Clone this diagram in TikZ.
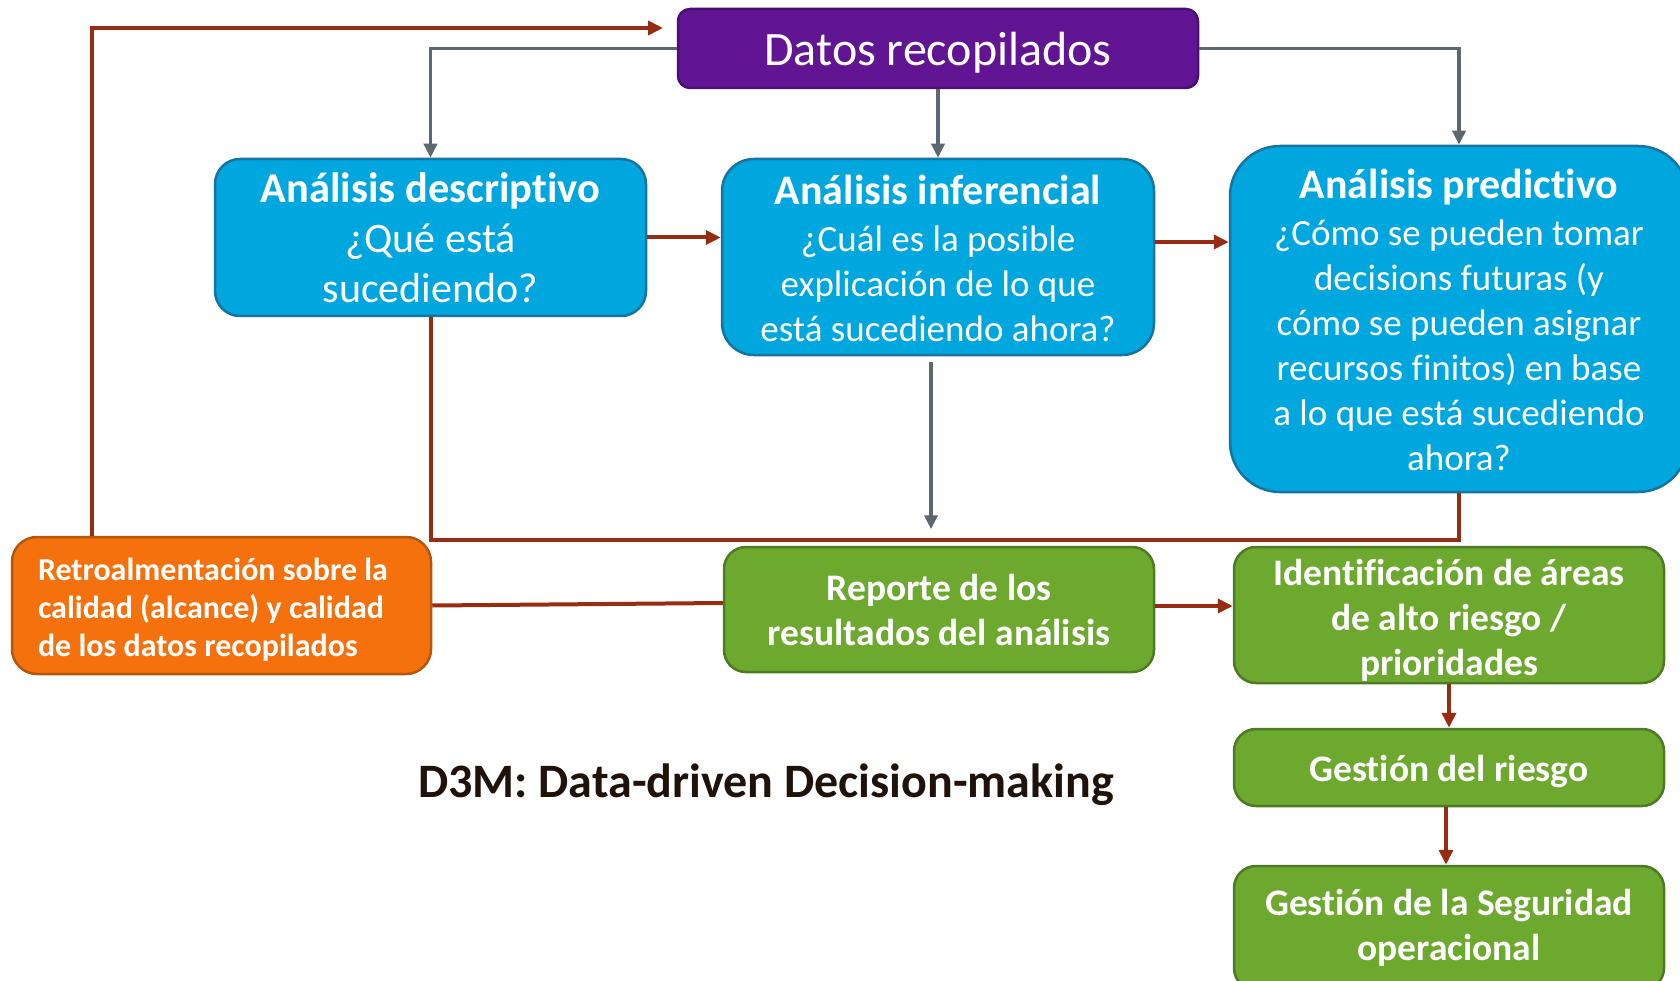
\documentclass[tikz,border=0pt]{standalone}
\usepackage{fontspec}
\setmainfont{Carlito}[Ligatures={NoCommon}]
\usetikzlibrary{arrows.meta,calc}
\definecolor{purp}{HTML}{621593}
\definecolor{purpb}{HTML}{4B0F73}
\definecolor{blu}{HTML}{00A6DE}
\definecolor{blub}{HTML}{1674A0}
\definecolor{orng}{HTML}{F4710E}
\definecolor{orngb}{HTML}{B4560C}
\definecolor{grn}{HTML}{6DA92F}
\definecolor{grnb}{HTML}{4F7A24}
\definecolor{gry}{HTML}{5C6870}
\definecolor{rdb}{HTML}{962C12}
\definecolor{ttl}{HTML}{1E120A}
\begin{document}
\begin{tikzpicture}[x=1pt,y=-1pt,
 box/.style={draw, line width=2.5pt, inner sep=0pt, anchor=center},
 bluebox/.style={box, fill=blu, draw=blub},
 greenbox/.style={box, fill=grn, draw=grnb, rounded corners=22pt, minimum width=430pt},
 txt/.style={text=white, inner sep=0pt, align=center},
 gtxt/.style={txt, font=\fontsize{37.5}{45}\selectfont\bfseries},
 gline/.style={draw=gry, line width=3.5pt, -{Triangle[length=14pt,width=13pt]}},
 rline/.style={draw=rdb, line width=4pt},
 rarr/.style={rline, -{Triangle[length=15pt,width=14pt]}},
 ]
\useasboundingbox (0,0) rectangle (1680,981);
\fill[white] (0,0) rectangle (1680,981);

% boxes
\node[box, fill=purp, draw=purpb, rounded corners=12pt, minimum width=520pt, minimum height=79pt] (data) at (938,48.5) {};
\node[bluebox, rounded corners=25pt, minimum width=431pt, minimum height=157pt] (desc) at (430.5,237.5) {};
\node[bluebox, rounded corners=32pt, minimum width=432pt, minimum height=196pt] (inf) at (938,257) {};
\node[bluebox, rounded corners=50pt, minimum width=458pt, minimum height=346pt] (pred) at (1459,319) {};
\node[box, fill=orng, draw=orngb, rounded corners=25pt, minimum width=419pt, minimum height=137pt] (ret) at (221.5,605.5) {};
\node[greenbox, minimum height=125pt] (rep) at (939,609.5) {};
\node[greenbox, minimum height=136pt] (ident) at (1449,615) {};
\node[greenbox, minimum height=77pt] (riesgo) at (1449,767.5) {};
\node[greenbox, minimum height=124pt] (seg) at (1449,928) {};

% texts
\node[txt, font=\fontsize{48}{56}\selectfont] (data-t) at ([yshift=-4pt]data.center) {Datos recopilados};
\node[txt, font=\fontsize{42}{50}\selectfont] (desc-t) at (desc.center) {{\fontsize{42.5}{50}\selectfont\bfseries Análisis descriptivo}\\¿Qué está\\sucediendo?};
\node[txt, font=\fontsize{37}{45}\selectfont] (inf-t) at ([yshift=-1pt]inf.center) {{\fontsize{42}{50}\selectfont\bfseries Análisis inferencial}\\[2pt]¿Cuál es la posible\\explicación de lo que\\está sucediendo ahora?};
\node[txt, font=\fontsize{37}{45}\selectfont] (pred-t) at ([yshift=-1pt]pred.center) {{\fontsize{42}{50}\selectfont\bfseries Análisis predictivo}\\[2pt]¿Cómo se pueden tomar\\decisions futuras (y\\cómo se pueden asignar\\recursos finitos) en base\\a lo que está sucediendo\\ahora?};
\node[txt, align=left, font=\fontsize{32}{38}\selectfont\bfseries] (ret-t) at ([xshift=-8.5pt,yshift=-4pt]ret.center) {Retroalmentación sobre la\\calidad (alcance) y calidad\\de los datos recopilados};
\node[gtxt] (rep-t) at (rep.center) {Reporte de los\\resultados del análisis};
\node[gtxt] (ident-t) at ([yshift=-5pt]ident.center) {Identificación de áreas\\de alto riesgo /\\prioridades};
\node[gtxt] (riesgo-t) at ([yshift=-4pt]riesgo.center) {Gestión del riesgo};
\node[gtxt] (seg-t) at (seg.center) {Gestión de la Seguridad\\operacional};

\node[text=ttl, font=\fontsize{48}{56}\selectfont\bfseries, inner sep=0pt] (title) at (766,785) {D3M: Data-driven Decision-making};

% grey connectors
\draw[gline] (data.west) -| (desc.north);
\draw[gline] (data.south) -- (inf.north);
\draw[gline] (data.east) -| (pred.north);
\draw[gline] ([xshift=-7pt,yshift=-6pt]inf.south) -- ++(0,167);

% red connectors
\draw[rarr] (desc.east) -- (desc.east -| inf.west);
\draw[rarr] ([yshift=15pt]inf.east) -- ([yshift=15pt]inf.east -| pred.west);
\coordinate (fb) at (663,28);
\draw[rarr] ([xshift=-129.5pt]ret.north) |- (fb);
\coordinate (ly) at (0,540);
\draw[rline] (desc.south) |- (ly -| pred.south) -- (pred.south);
\draw[rline] (ret.east) -- ([yshift=6.5pt]rep.west);
\draw[rarr] ([yshift=3.5pt]rep.east) -- ([yshift=3.5pt]rep.east -| ident.west);
\draw[rarr] (ident.south) -- (riesgo.north);
\draw[rarr] ([xshift=-3pt]riesgo.south) -- ([xshift=-3pt]riesgo.south |- seg.north);
\end{tikzpicture}
\end{document}
